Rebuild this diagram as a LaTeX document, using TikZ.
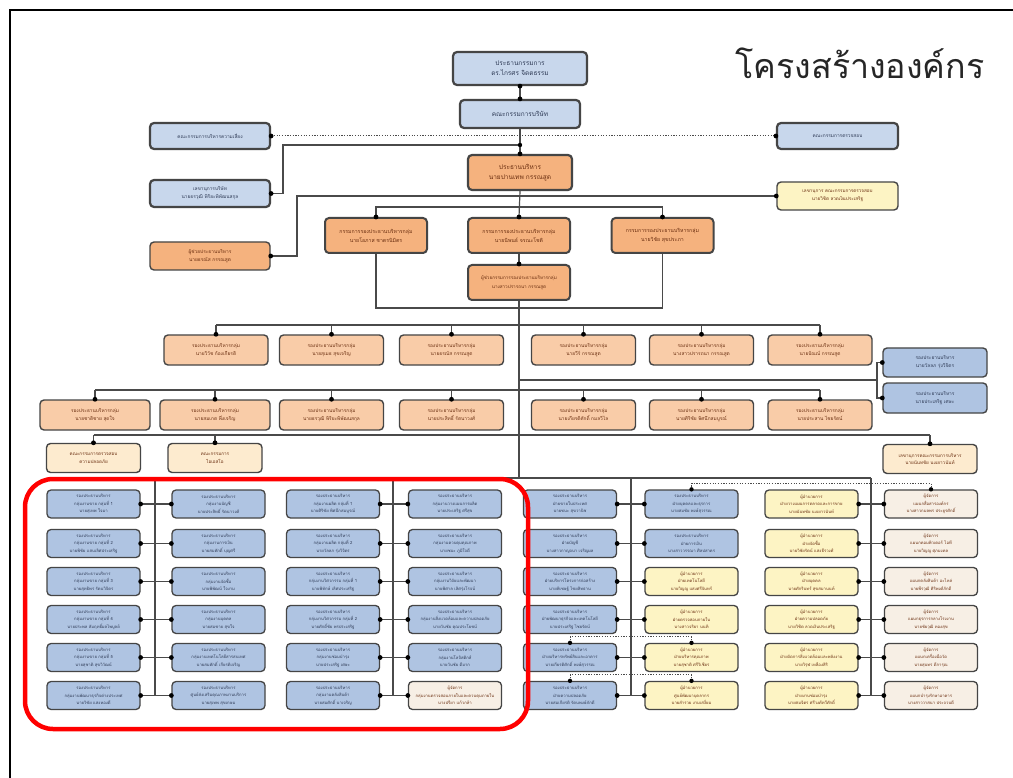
\documentclass[tikz,border=0pt]{standalone}
\usepackage{fontspec}
\newfontfamily\thai[Script=Thai]{Loma}
\definecolor{bord}{HTML}{454545}
\definecolor{lin}{HTML}{4A4A4A}
\definecolor{blueTop}{HTML}{C8D7EC}
\definecolor{blueBox}{HTML}{AFC4E2}
\definecolor{orStrong}{HTML}{F5B27E}
\definecolor{orLight}{HTML}{F9CCA8}
\definecolor{creamOr}{HTML}{FDEBCF}
\definecolor{yel}{HTML}{FDF4C4}
\definecolor{pale}{HTML}{F7EFE5}
\definecolor{txtB}{HTML}{2E3A55}
\definecolor{txtO}{HTML}{6A2E10}
\definecolor{redframe}{HTML}{FF0000}
\tikzset{
  bx/.style={draw=bord, line width=1.4pt, rounded corners=4pt, align=center, inner sep=0pt},
  topb/.style={bx, line width=2.2pt, fill=blueTop, text=txtB, font=\thai\fontsize{6.5}{10}\selectfont},
  ceob/.style={bx, line width=2.2pt, fill=orStrong, text=txtO, font=\thai\fontsize{6.5}{10}\selectfont},
  vpb/.style={bx, line width=2pt, fill=orStrong, text=txtO, minimum width=102pt, minimum height=35pt, font=\thai\fontsize{5.2}{9}\selectfont},
  rowb/.style={bx, fill=orLight, text=txtO, minimum width=104pt, minimum height=30pt, font=\thai\fontsize{4.8}{8}\selectfont},
  smb/.style={bx, minimum width=94pt, minimum height=29pt, font=\thai\fontsize{4.6}{7.5}\selectfont},
  gb/.style={bx, line width=1.3pt, minimum width=93pt, minimum height=28pt, font=\thai\fontsize{4.2}{7.6}\selectfont},
  gblue/.style={gb, fill=blueBox, text=txtB},
  gyel/.style={gb, fill=yel, text=txtO},
  gpale/.style={gb, fill=pale, text=txtO},
  ln/.style={draw=lin, line width=1.2pt},
  dotl/.style={draw=lin, line width=1pt, dash pattern=on 1.2pt off 1.5pt},
  jdot/.style={fill=black},
}
\begin{document}
\begin{tikzpicture}[x=1pt,y=-1pt]
\useasboundingbox (0,0) rectangle (1013,778);
\fill[white] (0,0) rectangle (1013,778);
% frame
\draw[line width=2pt, black] (10,778) -- (10,10) -- (1013,10);
% title
\node[font=\thai\fontsize{34}{40}\selectfont, text=black!85] (title) at (860,63) {โครงสร้างองค์กร};

% ---------- top ----------
\node[topb, minimum width=134pt, minimum height=33pt] (chair) at (520,68.5) {ประธานกรรมการ\\ดร.ไกรศร จิตตธรรม};
\node[topb, minimum width=120pt, minimum height=28pt] (board) at (520,114) {คณะกรรมการบริษัท};
\node[topb, minimum width=120pt, minimum height=26pt, font=\thai\fontsize{4.8}{8}\selectfont] (risk) at (210,136) {คณะกรรมการบริหารความเสี่ยง};
\node[topb, minimum width=121pt, minimum height=26pt, font=\thai\fontsize{4.8}{8}\selectfont] (audit) at (837.5,136) {คณะกรรมการตรวจสอบ};
\node[topb, minimum width=120pt, minimum height=27pt, font=\thai\fontsize{4.8}{8}\selectfont] (sec) at (210,193.5) {เลขานุการบริษัท\\นายธรวุฒิ พิริยะพิพัฒนสกุล};
\node[ceob, minimum width=104pt, minimum height=35pt] (ceo) at (520,172.5) {ประธานบริหาร\\นายปานเทพ กรรณสูต};
\node[bx, fill=yel, text=txtO, minimum width=121pt, minimum height=28pt, font=\thai\fontsize{4.6}{8}\selectfont] (secaud) at (837.5,196) {เลขานุการ คณะกรรมการตรวจสอบ\\นายวิชิต ลวดเงินประเสริฐ};
\node[bx, fill=orStrong, text=txtO, minimum width=120pt, minimum height=28pt, font=\thai\fontsize{4.8}{8}\selectfont] (asst) at (210,256) {ผู้ช่วยประธานบริหาร\\นายธรณัส กรรณสูต};
\node[vpb] (vp1) at (376,235.5) {กรรมการรองประธานบริหารกลุ่ม\\นายโอภาส ชาตรนิมิตร};
\node[vpb] (vp2) at (519,235.5) {กรรมการรองประธานบริหารกลุ่ม\\นายนิพนธ์ จรณะโชติ};
\node[vpb] (vp3) at (662.5,235.5) {กรรมการรองประธานบริหารกลุ่ม\\นายวิชัย สุขประภา};
\node[vpb, font=\thai\fontsize{4.6}{9}\selectfont] (vpa) at (519,282.5) {ผู้ช่วยกรรมการรองประธานบริหารกลุ่ม\\นางสาวปรารถนา กรรณสูต};

\coordinate (j145) at (520,145);
\coordinate (k145) at (283,145);
\coordinate (k196) at (297,196);
\coordinate (h207) at (0,207);
\coordinate (h308) at (0,308);
\coordinate (tEnd) at (519,478);

\draw[ln] (chair.south) -- (board.north);
\draw[ln] (board.south) -- (ceo.north);
\draw[dotl] (risk.east) -- (audit.west);
\draw[ln] (j145) -- (k145) |- (sec.east);
\draw[ln] (asst.east) -| (k196) -- (secaud.west);
\draw[ln] (ceo.south) -- (vp2.north);
\draw[ln] (vp1.north) -- (vp1.north |- h207) -- (vp3.north |- h207) -- (vp3.north);
\draw[ln] (vp2.south) -- (vpa.north);
\draw[ln] (vp1.south) -- (vp1.south |- h308) -- (vp3.south |- h308) -- (vp3.south);
\draw[ln] (vpa.south) -- (tEnd);
\foreach \n in {chair.south,board.north,ceo.north,risk.east,audit.west,sec.east,asst.east,secaud.west,vp1.north,vp2.north,vp3.north,vpa.north}
  \fill[jdot] (\n) circle (2.4);
\fill[jdot] (j145) circle (2.2);

% ---------- row A ----------
\node[rowb] (a1) at (216,350) {รองประธานบริหารกลุ่ม\\นายวิวัช ก้องเกียรติ};
\node[rowb] (a2) at (331.5,350) {รองประธานบริหารกลุ่ม\\นายสุเมธ สุขเจริญ};
\node[rowb] (a3) at (451.5,350) {รองประธานบริหารกลุ่ม\\นายธรณัส กรรณสูต};
\node[rowb] (a4) at (583.5,350) {รองประธานบริหารกลุ่ม\\นายวีร์ กรรณสูต};
\node[rowb] (a5) at (701.5,350) {รองประธานบริหารกลุ่ม\\นางสาวปรารถนา กรรณสูต};
\node[rowb] (a6) at (820,350) {รองประธานบริหารกลุ่ม\\นายปัณณ์ กรรณสูต};
\coordinate (hA) at (0,325);
\draw[ln] (a1.north |- hA) -- (a6.north |- hA);
\foreach \i in {1,...,6} {\draw[ln] (a\i.north |- hA) -- (a\i.north); \fill[jdot] (a\i.north) circle (2.4);}

% ---------- right blue pair ----------
\node[bx, fill=blueBox, text=txtB, minimum width=104pt, minimum height=29pt, font=\thai\fontsize{4.8}{8}\selectfont] (rb1) at (935,362.5) {รองประธานบริหาร\\นายวัลลภ รุ่งวิจิตร};
\node[bx, fill=blueBox, text=txtB, minimum width=104pt, minimum height=30pt, font=\thai\fontsize{4.8}{8}\selectfont] (rb2) at (935,398) {รองประธานบริหาร\\นายประเสริฐ เศษะ};
\coordinate (t380) at (519,380);
\coordinate (b380) at (877,380);
\draw[ln] (t380) -- (b380);
\draw[ln] (rb1.west) -| (b380) |- (rb2.west);
\fill[jdot] (rb1.west) circle (2.4);
\fill[jdot] (rb2.west) circle (2.4);

% ---------- row B ----------
\node[rowb, minimum width=110pt] (b1) at (95,415) {รองประธานบริหารกลุ่ม\\นายชาติชาย สุดใจ};
\node[rowb, minimum width=110pt] (b2) at (215,415) {รองประธานบริหารกลุ่ม\\นายสมเกต พึ่งเจริญ};
\node[rowb] (b3) at (331.5,415) {รองประธานบริหารกลุ่ม\\นายธรวุฒิ พิริยะพิพัฒนสกุล};
\node[rowb] (b4) at (451.5,415) {รองประธานบริหารกลุ่ม\\นายประสิทธิ์ รัตนาวงศ์};
\node[rowb] (b5) at (583.5,415) {รองประธานบริหารกลุ่ม\\นายเกียรติศักดิ์ กมลวิไล};
\node[rowb] (b6) at (701.5,415) {รองประธานบริหารกลุ่ม\\นายศิริชัย พิศนึกสมบูรณ์};
\node[rowb] (b7) at (820,415) {รองประธานบริหารกลุ่ม\\นายประสาน ไชยรัตน์};
\coordinate (hB) at (0,390);
\draw[ln] (b1.north |- hB) -- (b7.north |- hB);
\foreach \i in {1,...,7} {\draw[ln] (b\i.north |- hB) -- (b\i.north); \fill[jdot] (b\i.north) circle (2.4);}

% ---------- row C ----------
\node[smb, fill=creamOr, text=txtO] (c1) at (93.5,458) {คณะกรรมการตรวจสอบ\\ความปลอดภัย};
\node[smb, fill=creamOr, text=txtO] (c2) at (215,458) {คณะกรรมการ\\ไอเอสโอ};
\node[smb, fill=creamOr, text=txtO] (c3) at (930,459) {เลขานุการคณะกรรมการบริหาร\\นายนันทชัย นงเยาวนันท์};
\coordinate (hC) at (0,435);
\draw[ln] (c1.north |- hC) -- (c3.north |- hC);
\foreach \i in {1,2,3} {\draw[ln] (c\i.north |- hC) -- (c\i.north); \fill[jdot] (c\i.north) circle (2.4);}

% ---------- bottom grid ----------
% column 1
\node[gblue] (g1r1) at (93.5,504) {รองประธานบริหาร\\กลุ่มงานขาย กลุ่มที่ 1\\นายสุเทพ ใจมา};
\node[gblue] (g1r2) at (93.5,543.5) {รองประธานบริหาร\\กลุ่มงานขาย กลุ่มที่ 2\\นายพิชัย แสนเลิศประเสริฐ};
\node[gblue] (g1r3) at (93.5,581.5) {รองประธานบริหาร\\กลุ่มงานขาย กลุ่มที่ 3\\นายสุทธิพร รัตนวิจิตร};
\node[gblue] (g1r4) at (93.5,619.5) {รองประธานบริหาร\\กลุ่มงานขาย กลุ่มที่ 4\\นายประพล สัมฤทธิ์ผลไพบูลย์};
\node[gblue] (g1r5) at (93.5,657.5) {รองประธานบริหาร\\กลุ่มงานขาย กลุ่มที่ 5\\นายสุชาติ สุขวิวัฒน์};
\node[gblue] (g1r6) at (93.5,695.5) {รองประธานบริหาร\\กลุ่มงานพัฒนาธุรกิจต่างประเทศ\\นายวิชัย แสงทองดี};
% column 2
\node[gblue] (g2r1) at (218.5,504) {รองประธานบริหาร\\กลุ่มงานบัญชี\\นายประสิทธิ์ รัตนาวงศ์};
\node[gblue] (g2r2) at (218.5,543.5) {รองประธานบริหาร\\กลุ่มงานการเงิน\\นายสมศักดิ์ บุญศรี};
\node[gblue] (g2r3) at (218.5,581.5) {รองประธานบริหาร\\กลุ่มงานจัดซื้อ\\นายพิพัฒน์ ใจงาม};
\node[gblue] (g2r4) at (218.5,619.5) {รองประธานบริหาร\\กลุ่มงานบุคคล\\นายสมชาย สุขใจ};
\node[gblue] (g2r5) at (218.5,657.5) {รองประธานบริหาร\\กลุ่มงานเทคโนโลยีสารสนเทศ\\นายสมศักดิ์ เกียรติเจริญ};
\node[gblue] (g2r6) at (218.5,695.5) {รองประธานบริหาร\\ศูนย์ส่งเสริมคุณภาพงานบริการ\\นายสุเทพ สุขเกษม};
% column 3
\node[gblue] (g3r1) at (333,504) {รองประธานบริหาร\\กลุ่มงานผลิต กลุ่มที่ 1\\นายศิริชัย พิศนึกสมบูรณ์};
\node[gblue] (g3r2) at (333,543.5) {รองประธานบริหาร\\กลุ่มงานผลิต กลุ่มที่ 2\\นายวัลลภ รุ่งวิจิตร};
\node[gblue] (g3r3) at (333,581.5) {รองประธานบริหาร\\กลุ่มงานวิศวกรรม กลุ่มที่ 1\\นายพิทักษ์ เลิศประเสริฐ};
\node[gblue] (g3r4) at (333,619.5) {รองประธานบริหาร\\กลุ่มงานวิศวกรรม กลุ่มที่ 2\\นายศักดิ์ชัย พรประเสริฐ};
\node[gblue] (g3r5) at (333,657.5) {รองประธานบริหาร\\กลุ่มงานซ่อมบำรุง\\นายประเสริฐ เศษะ};
\node[gblue] (g3r6) at (333,695.5) {รองประธานบริหาร\\กลุ่มงานคลังสินค้า\\นายสมศักดิ์ นาเจริญ};
% column 4
\node[gblue] (g4r1) at (455,504) {รองประธานบริหาร\\กลุ่มงานวางแผนการผลิต\\นายประเสริฐ ศรีสุข};
\node[gblue] (g4r2) at (455,543.5) {รองประธานบริหาร\\กลุ่มงานควบคุมคุณภาพ\\นายชนะ ภูมิใจดี};
\node[gblue] (g4r3) at (455,581.5) {รองประธานบริหาร\\กลุ่มงานวิจัยและพัฒนา\\นายพิศาล เลิศรุ่งโรจน์};
\node[gblue] (g4r4) at (455,619.5) {รองประธานบริหาร\\กลุ่มงานสิ่งแวดล้อมและความปลอดภัย\\นายวันชัย คุณประโยชน์};
\node[gblue] (g4r5) at (455,657.5) {รองประธานบริหาร\\กลุ่มงานโลจิสติกส์\\นายวันชัย ดีมาก};
\node[gpale] (g4r6) at (455,695.5) {ผู้จัดการ\\กลุ่มงานตรวจสอบภายในและควบคุมภายใน\\นางปรียา แก้วกล้า};
% column 5
\node[gblue] (g5r1) at (570,504) {รองประธานบริหาร\\ฝ่ายขายในประเทศ\\นายชนะ สุขวานิช};
\node[gblue] (g5r2) at (570,543.5) {รองประธานบริหาร\\ฝ่ายบัญชี\\นางสาวกาญจนา เจริญผล};
\node[gblue] (g5r3) at (570,581.5) {รองประธานบริหาร\\ฝ่ายบริหารโครงการก่อสร้าง\\นายพิเชษฐ์ ไชยสิทธาน};
\node[gblue] (g5r4) at (570,619.5) {รองประธานบริหาร\\ฝ่ายพัฒนาธุรกิจและเทคโนโลยี\\นายประเสริฐ ไชยรัตน์};
\node[gblue] (g5r5) at (570,657.5) {รองประธานบริหาร\\ฝ่ายบริหารทรัพย์สินและอาคาร\\นายเกียรติศักดิ์ พงษ์สุวรรณ};
\node[gblue] (g5r6) at (570,695.5) {รองประธานบริหาร\\ฝ่ายความปลอดภัย\\นายสมเกียรติ รัตนพงษ์ภักดี};
% column 6
\node[gblue] (g6r1) at (691.5,504) {รองประธานบริหาร\\ฝ่ายบุคคลและธุรการ\\นายสมชัย พงษ์สุวรรณ};
\node[gblue] (g6r2) at (691.5,543.5) {รองประธานบริหาร\\ฝ่ายการเงิน\\นางสาววรรณา ศิลปสาคร};
\node[gyel] (g6r3) at (691.5,581.5) {ผู้อำนวยการ\\ฝ่ายเทคโนโลยี\\นายวิญญู แสงศรีจันทร์};
\node[gyel] (g6r4) at (691.5,619.5) {ผู้อำนวยการ\\ฝ่ายตรวจสอบภายใน\\นางสาวจริยา นนทิ};
\node[gyel] (g6r5) at (691.5,657.5) {ผู้อำนวยการ\\ฝ่ายบริหารคุณภาพ\\นายสุชาติ ศรีวิเชียร};
\node[gyel] (g6r6) at (691.5,695.5) {ผู้อำนวยการ\\ศูนย์พัฒนาบุคลากร\\นายสำรวย งามเสงี่ยม};
% column 7
\node[gyel] (g7r1) at (811.5,504) {ผู้อำนวยการ\\ฝ่ายวางแผนการตลาดและการขาย\\นายนันทชัย นงเยาวนันท์};
\node[gyel] (g7r2) at (811.5,543.5) {ผู้อำนวยการ\\ฝ่ายจัดซื้อ\\นายวิชัยรัตน์ แสงธีรวงศ์};
\node[gyel] (g7r3) at (811.5,581.5) {ผู้อำนวยการ\\ฝ่ายบุคคล\\นายศักรินทร์ สุขสมานนท์};
\node[gyel] (g7r4) at (811.5,619.5) {ผู้อำนวยการ\\ฝ่ายความปลอดภัย\\นายวิชิต ลวดเงินประเสริฐ};
\node[gyel] (g7r5) at (811.5,657.5) {ผู้อำนวยการ\\ฝ่ายจัดการสิ่งแวดล้อมและพลังงาน\\นายวิรุฬ เหลืองสิริ};
\node[gyel] (g7r6) at (811.5,695.5) {ผู้อำนวยการ\\ฝ่ายงานซ่อมบำรุง\\นายสมจิตร ศรีวงศ์ทวีศักดิ์};
% column 8
\node[gpale] (g8r1) at (931,504) {ผู้จัดการ\\แผนกสื่อสารองค์กร\\นางสาวกมลพร ประยูรศักดิ์};
\node[gpale] (g8r2) at (931,543.5) {ผู้จัดการ\\แผนกคอมพิวเตอร์ ไอที\\นายวิญญู ศุภมงคล};
\node[gpale] (g8r3) at (931,581.5) {ผู้จัดการ\\แผนกคลังสินค้า อะไหล่\\นายพีรวุฒิ ศิริพงศ์ภักดี};
\node[gpale] (g8r4) at (931,619.5) {ผู้จัดการ\\แผนกธุรการกลางโรงงาน\\นายชัยวุฒิ ทองสุข};
\node[gpale] (g8r5) at (931,657.5) {ผู้จัดการ\\แผนกเครื่องมือวัด\\นายสุนทร ดีการุณ};
\node[gpale] (g8r6) at (931,695.5) {ผู้จัดการ\\แผนกบำรุงรักษาอาคาร\\นางสาววาสนา ประจวบดี};

% grid bus and verticals
\coordinate (v1) at (155,478);
\coordinate (v2) at (393,478);
\coordinate (v3) at (631,478);
\coordinate (v4) at (871,478);
\draw[ln] (v1) -- (v4);
\draw[ln] (v1) -- (v1 |- g1r6.east);
\draw[ln] (v2) -- (v2 |- g3r6.east);
\draw[ln] (v3) -- (v3 |- g5r6.east);
\draw[ln] (v4) -- (v4 |- g7r6.east);
\foreach \r in {1,...,6} {
  \draw[ln] (g1r\r.east) -- (g2r\r.west);
  \draw[ln] (g3r\r.east) -- (g4r\r.west);
  \draw[ln] (g5r\r.east) -- (g6r\r.west);
  \draw[ln] (g7r\r.east) -- (g8r\r.west);
  \foreach \c in {1,3,5,7} \fill[jdot] (g\c r\r.east) circle (2.4);
  \foreach \c in {2,4,6,8} \fill[jdot] (g\c r\r.west) circle (2.4);
}
% dotted links in grid
\draw[dotl] (g6r1.north) -- ++(0,-6) -| (g8r1.north);
\draw[dotl] (g5r5.north) -- ++(0,-6) -| (g6r5.north);
\draw[dotl] (g5r6.north) -- ++(0,-6) -| (g6r6.north);
\foreach \n in {g6r1,g8r1,g5r5,g6r5,g5r6,g6r6} \fill[jdot] (\n.north) circle (2.2);

% red highlight
\draw[redframe, line width=4.5pt, rounded corners=28pt] (25,479) rectangle (528,729);
\end{tikzpicture}
\end{document}
